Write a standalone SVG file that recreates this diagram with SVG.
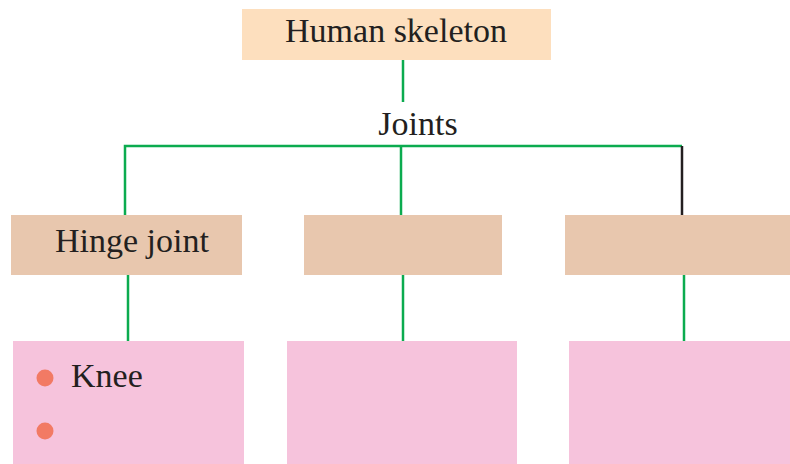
<svg xmlns="http://www.w3.org/2000/svg" width="790" height="464" viewBox="0 0 790 464">
<style>
.t{font-family:"Liberation Serif","Times New Roman",serif;font-size:34px;fill:#231f20}
.g{stroke:#0bab4f;stroke-width:2.5;fill:none}
.k{stroke:#231f20;stroke-width:2.5;fill:none}
.mid{fill:#e8c7ae}
.pk{fill:#f6c3dc}
.b{fill:#f27a64}
</style>
<rect width="790" height="464" fill="#ffffff"/>
<g id="connectors">
<line class="g" x1="403" y1="58" x2="403" y2="102"/>
<polyline class="g" points="125,215 125,146 682,146"/>
<line class="g" x1="401" y1="146" x2="401" y2="215"/>
<line class="k" x1="682" y1="146" x2="682" y2="215"/>
<line class="g" x1="128" y1="275" x2="128" y2="341"/>
<line class="g" x1="403" y1="275" x2="403" y2="341"/>
<line class="g" x1="684" y1="275" x2="684" y2="341"/>
</g>
<g id="human-skeleton">
<rect x="242" y="9" width="309" height="51" fill="#fddfbe"/>
<text class="t" x="396" y="42" text-anchor="middle">Human skeleton</text>
</g>
<g id="joints">
<text class="t" x="418" y="135" text-anchor="middle">Joints</text>
</g>
<g id="hinge-joint">
<rect class="mid" x="11" y="215" width="231" height="60"/>
<text class="t" x="132" y="252" text-anchor="middle">Hinge joint</text>
</g>
<g id="joint-2">
<rect class="mid" x="304" y="215" width="198" height="60"/>
</g>
<g id="joint-3">
<rect class="mid" x="565" y="215" width="225" height="60"/>
</g>
<g id="examples-1">
<rect class="pk" x="13" y="341" width="231" height="123"/>
<circle class="b" cx="45" cy="378" r="8.5"/>
<text class="t" x="71" y="387">Knee</text>
<circle class="b" cx="45" cy="431" r="8.5"/>
</g>
<g id="examples-2">
<rect class="pk" x="287" y="341" width="230" height="123"/>
</g>
<g id="examples-3">
<rect class="pk" x="569" y="341" width="221" height="123"/>
</g>
</svg>
